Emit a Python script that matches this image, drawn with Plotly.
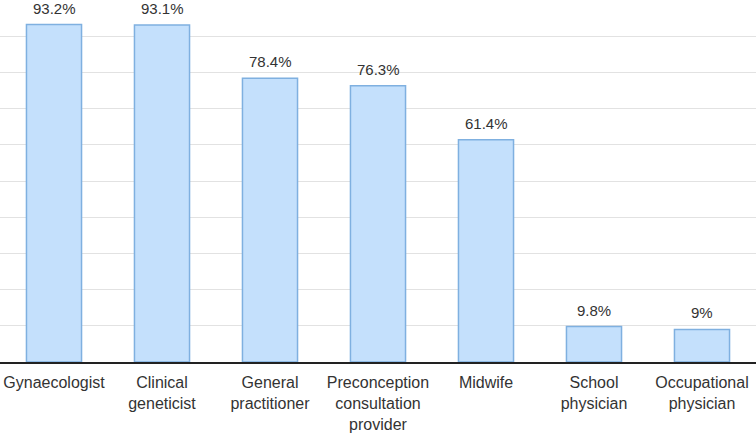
import plotly.graph_objects as go

categories = ["Gynaecologist", "Clinical<br>geneticist", "General<br>practitioner",
              "Preconception<br>consultation<br>provider", "Midwife",
              "School<br>physician", "Occupational<br>physician"]
values = [93.2, 93.1, 78.4, 76.3, 61.4, 9.8, 9.0]
labels = [f"{v:g}%" for v in values]

FONT = "Liberation Sans, Arial, Helvetica, sans-serif"

fig = go.Figure(go.Bar(
    x=list(range(len(categories))),
    y=values,
    width=0.51,
    marker=dict(color="#c4e0fc", line=dict(color="#7fb0e0", width=1.5)),
    hovertext=labels,
))

for i, (v, t) in enumerate(zip(values, labels)):
    fig.add_annotation(x=i, y=v, text=t, showarrow=False, yanchor="bottom",
                       yshift=6, font=dict(family=FONT, size=15, color="#333333"))

fig.update_layout(
    width=756, height=434,
    margin=dict(l=0, r=0, t=0, b=72, autoexpand=False),
    paper_bgcolor="white", plot_bgcolor="white",
    showlegend=False,
    font=dict(family=FONT, size=15, color="#333333"),
    xaxis=dict(
        range=[-0.5, len(categories) - 0.5],
        tickmode="array", tickvals=list(range(len(categories))), ticktext=categories,
        showline=True, linecolor="#222222", linewidth=1.5,
        showgrid=False, ticks="", ticklen=0, automargin=False,
        ticklabelstandoff=5,
        tickfont=dict(family=FONT, size=16, color="#333333"),
    ),
    yaxis=dict(
        range=[0, 100], dtick=10, showticklabels=False,
        showgrid=True, gridcolor="#e2e2e2", gridwidth=1,
        zeroline=False, showline=False,
    ),
)

fig.write_html("out.html", config={"displayModeBar": False},
               post_script="document.body.style.margin='0';")
